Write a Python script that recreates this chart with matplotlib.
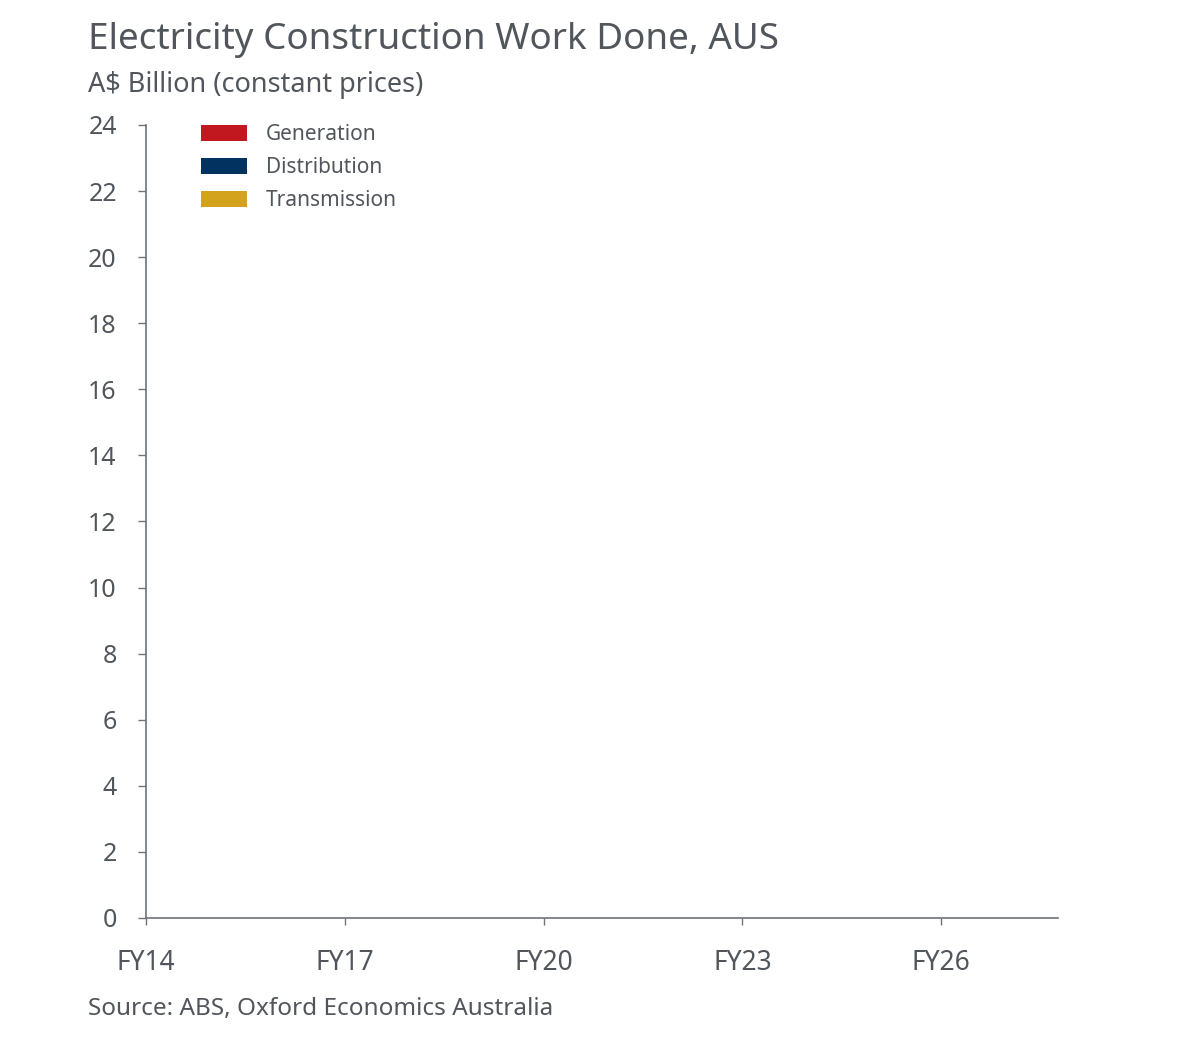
import matplotlib
matplotlib.use("Agg")
import matplotlib.pyplot as plt
import numpy as np

# ---- data (the reference chart shows no visible bars) ----
years = [14, 15, 16, 17, 18, 19, 20, 21, 22, 23, 24, 25, 26, 27]
generation = [0, 0, 0, 0, 0, 0, 0, 0, 0, 0, 0, 0, 0, 0]
distribution = [0, 0, 0, 0, 0, 0, 0, 0, 0, 0, 0, 0, 0, 0]
transmission = [0, 0, 0, 0, 0, 0, 0, 0, 0, 0, 0, 0, 0, 0]
series_names = ["Generation", "Distribution", "Transmission"]
series_colors = ["#C1181F", "#02325F", "#D4A31E"]
xtick_years = [14, 17, 20, 23, 26]
xtick_labels = ["FY14", "FY17", "FY20", "FY23", "FY26"]
yticks = [0, 2, 4, 6, 8, 10, 12, 14, 16, 18, 20, 22, 24]

TXT = "#51565C"
AX = "#6E7378"
plt.rcParams["font.family"] = ["Noto Sans", "DejaVu Sans"]

fig = plt.figure(figsize=(11.78, 10.52), dpi=100)
fig.patch.set_facecolor("white")
ax = fig.add_axes([0.1239, 0.1274, 0.7742, 0.7538])

x = np.array(years, dtype=float) + 0.5
bottom = np.zeros(len(years))
handles = []
for vals, name, col in zip([generation, distribution, transmission], series_names, series_colors):
    h = ax.bar(x, vals, width=0.7, bottom=bottom, color=col, label=name, linewidth=0)
    handles.append(h)
    bottom = bottom + np.array(vals, dtype=float)

ax.set_xlim(14, 27.76)
ax.set_ylim(0, 24)
ax.set_yticks(yticks)
ax.set_yticklabels([str(v) for v in yticks])
ax.set_xticks(xtick_years)
ax.set_xticklabels(xtick_labels)

for s in ["top", "right"]:
    ax.spines[s].set_visible(False)
for s in ["left", "bottom"]:
    ax.spines[s].set_color(AX)
    ax.spines[s].set_linewidth(1.2)
ax.tick_params(axis="y", length=6, width=1, color=AX, labelcolor=TXT, labelsize=18, pad=15)
ax.tick_params(axis="x", length=5, width=1, color=AX, labelcolor=TXT, labelsize=19, pad=17)

leg = ax.legend(handles=handles, loc="upper left", bbox_to_anchor=(0.0603, 1.001), frameon=False,
                fontsize=15, handlelength=2.2, handleheight=0.85, handletextpad=0.9,
                labelspacing=0.58, borderaxespad=0.0, borderpad=0.0)
for t in leg.get_texts():
    t.set_color(TXT)

fig.text(0.0747, 0.9617, "Electricity Construction Work Done, AUS", fontsize=26.5, color=TXT, va="center", ha="left")
fig.text(0.0747, 0.919, "A$ Billion (constant prices)", fontsize=19.5, color=TXT, va="center", ha="left")
fig.text(0.0747, 0.0407, "Source: ABS, Oxford Economics Australia", fontsize=17.5, color=TXT, va="center", ha="left")

fig.savefig("out.png", dpi=100, facecolor="white")
